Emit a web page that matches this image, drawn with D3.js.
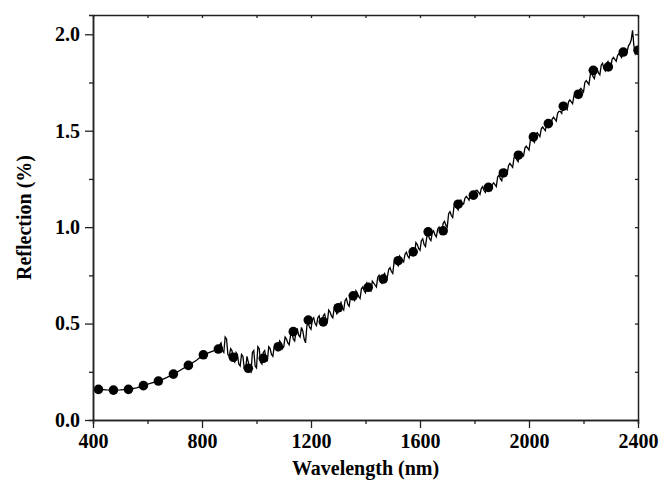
<!DOCTYPE html>
<html>
<head>
<meta charset="utf-8">
<script src="https://cdn.jsdelivr.net/npm/d3@7"></script>
<style>
  body { margin: 0; background: #fff; }
  text { font-family: "Liberation Serif", "Times New Roman", serif; font-weight: bold; }
</style>
</head>
<body>
<svg id="drawing_region"></svg>
<script>
// smooth part of the spectrum
var smoothWl = [400, 420, 450, 475, 500, 530, 560, 585, 610, 640, 670, 695, 720, 750, 780, 805, 830, 850];
var smoothR = [0.160, 0.159, 0.156, 0.155, 0.156, 0.159, 0.167, 0.178, 0.190, 0.202, 0.220, 0.238, 0.258, 0.283, 0.310, 0.338, 0.352, 0.362];

// noisy part, read every 5 nm from 860 to 2400
var noisyStart = 860, noisyStep = 5;
var noisyR = [
  0.368, 0.39, 0.40, 0.36, 0.35, 0.43, 0.42, 0.34, 0.33, 0.37,
  0.36, 0.31, 0.30, 0.35, 0.34, 0.29, 0.28, 0.34, 0.33, 0.27,
  0.26, 0.33, 0.30, 0.26, 0.25, 0.35, 0.36, 0.28, 0.27, 0.38,
  0.37, 0.30, 0.29, 0.35, 0.36, 0.32, 0.31, 0.38, 0.37, 0.34,
  0.33, 0.38, 0.39, 0.36, 0.36, 0.41, 0.40, 0.37, 0.38, 0.43,
  0.42, 0.40, 0.39, 0.44, 0.45, 0.42, 0.41, 0.46, 0.47, 0.44,
  0.43, 0.48, 0.46, 0.42, 0.40, 0.49, 0.50, 0.48, 0.47, 0.52,
  0.53, 0.50, 0.49, 0.53, 0.54, 0.51, 0.50, 0.54, 0.55, 0.52,
  0.51, 0.57, 0.56, 0.54, 0.53, 0.58, 0.57, 0.55, 0.56, 0.60,
  0.61, 0.58, 0.57, 0.62, 0.63, 0.60, 0.59, 0.64, 0.65, 0.63,
  0.62, 0.67, 0.66, 0.64, 0.63, 0.68, 0.69, 0.67, 0.66, 0.71,
  0.70, 0.68, 0.67, 0.72, 0.71, 0.70, 0.69, 0.74, 0.75, 0.72,
  0.71, 0.75, 0.76, 0.74, 0.74, 0.78, 0.79, 0.77, 0.76, 0.82,
  0.83, 0.81, 0.80, 0.85, 0.84, 0.83, 0.82, 0.86, 0.87, 0.85,
  0.84, 0.88, 0.89, 0.87, 0.86, 0.92, 0.91, 0.89, 0.88, 0.93,
  0.94, 0.91, 0.90, 0.95, 0.96, 0.94, 0.93, 0.97, 0.98, 0.96,
  0.95, 0.99, 1.00, 0.98, 0.97, 1.02, 1.03, 1.01, 1.00, 1.07,
  1.08, 1.06, 1.05, 1.11, 1.12, 1.10, 1.09, 1.13, 1.14, 1.12,
  1.12, 1.15, 1.16, 1.15, 1.14, 1.17, 1.18, 1.16, 1.15, 1.19,
  1.19, 1.18, 1.17, 1.20, 1.21, 1.19, 1.18, 1.22, 1.22, 1.20,
  1.19, 1.22, 1.23, 1.22, 1.21, 1.26, 1.27, 1.25, 1.24, 1.29,
  1.30, 1.29, 1.28, 1.32, 1.33, 1.32, 1.31, 1.36, 1.37, 1.35,
  1.34, 1.38, 1.39, 1.38, 1.37, 1.41, 1.42, 1.41, 1.40, 1.45,
  1.46, 1.45, 1.44, 1.48, 1.49, 1.48, 1.47, 1.51, 1.52, 1.51,
  1.50, 1.54, 1.55, 1.54, 1.53, 1.56, 1.57, 1.56, 1.55, 1.59,
  1.60, 1.60, 1.59, 1.63, 1.64, 1.62, 1.61, 1.65, 1.66, 1.65,
  1.64, 1.68, 1.69, 1.68, 1.67, 1.71, 1.72, 1.71, 1.70, 1.75,
  1.76, 1.75, 1.74, 1.79, 1.80, 1.78, 1.77, 1.81, 1.82, 1.80,
  1.79, 1.84, 1.85, 1.82, 1.81, 1.85, 1.86, 1.84, 1.83, 1.87,
  1.88, 1.87, 1.86, 1.89, 1.90, 1.89, 1.88, 1.91, 1.92, 1.91,
  1.91, 1.94, 1.95, 1.97, 2.02, 1.94, 1.90, 1.92, 1.93
];

// circle markers
var markerWl = [420, 475, 530, 585, 640, 695, 750, 805, 860, 915, 970, 1025, 1080, 1135, 1190, 1245, 1300, 1355, 1410,
  1465, 1520, 1575, 1630, 1685, 1740, 1796, 1851, 1906, 1961, 2016, 2071, 2126, 2181, 2236, 2291, 2346, 2400];
var markerR = [0.159, 0.155, 0.159, 0.178, 0.202, 0.238, 0.283, 0.338, 0.368, 0.325, 0.268, 0.320, 0.380, 0.458, 0.518,
  0.509, 0.582, 0.644, 0.688, 0.731, 0.826, 0.872, 0.976, 0.981, 1.119, 1.166, 1.206, 1.281, 1.373, 1.468, 1.537,
  1.627, 1.689, 1.813, 1.831, 1.908, 1.917];

var xMajor = [400, 800, 1200, 1600, 2000, 2400];
var xMinor = [600, 1000, 1400, 1800, 2200];
var yMajor = [0.0, 0.5, 1.0, 1.5, 2.0];
var yMinor = [0.25, 0.75, 1.25, 1.75];

var config = {
    width: 663,
    height: 493,
    margin: { top: 15, right: 25, bottom: 73, left: 93 }
};

var spectrum = smoothWl.map((w, i) => ({ wl: w, r: smoothR[i] }))
    .concat(noisyR.map((r, i) => ({ wl: noisyStart + i * noisyStep, r: r })));
var markers = markerWl.map((w, i) => ({ wl: w, r: markerR[i] }));

var svg = d3.select('#drawing_region')
    .attr('width', config.width)
    .attr('height', config.height);

var innerW = config.width - config.margin.left - config.margin.right;
var innerH = config.height - config.margin.top - config.margin.bottom;

var chart = svg.append('g')
    .attr('transform', `translate(${config.margin.left}, ${config.margin.top})`);

var x = d3.scaleLinear().domain([400, 2400]).range([0, innerW]);
var y = d3.scaleLinear().domain([0, 2.1]).range([innerH, 0]);

chart.append('clipPath').attr('id', 'clip')
    .append('rect').attr('width', innerW).attr('height', innerH);

var plot = chart.append('g').attr('clip-path', 'url(#clip)');

plot.append('path')
    .datum(spectrum)
    .attr('d', d3.line().x(d => x(d.wl)).y(d => y(d.r)))
    .attr('fill', 'none')
    .attr('stroke', '#000')
    .attr('stroke-width', 1.3);

plot.selectAll('circle')
    .data(markers)
    .enter()
    .append('circle')
    .attr('cx', d => x(d.wl))
    .attr('cy', d => y(d.r))
    .attr('r', 4.8)
    .attr('fill', '#000');

// axes
function styleAxis(g) {
    g.selectAll('path.domain').attr('stroke', '#222').attr('stroke-width', 1.5);
    g.selectAll('.tick line').attr('stroke', '#222').attr('stroke-width', 1.3);
    g.selectAll('.tick text').attr('fill', '#000').style('font-size', '20px');
}

chart.append('g')
    .attr('transform', `translate(0, ${innerH})`)
    .call(d3.axisBottom(x).tickValues(xMinor).tickSize(4).tickFormat(''))
    .call(styleAxis);
chart.append('g')
    .attr('transform', `translate(0, ${innerH})`)
    .call(d3.axisBottom(x).tickValues(xMajor).tickSize(8).tickSizeOuter(0).tickPadding(6).tickFormat(d3.format('d')))
    .call(styleAxis);

chart.append('g')
    .call(d3.axisLeft(y).tickValues(yMinor).tickSize(4).tickFormat(''))
    .call(styleAxis);
chart.append('g')
    .call(d3.axisLeft(y).tickValues(yMajor).tickSize(8).tickSizeOuter(0).tickPadding(5).tickFormat(d3.format('.1f')))
    .call(styleAxis);

chart.append('g')
    .call(d3.axisTop(x).tickValues(xMajor.concat(xMinor)).tickSize(-3).tickSizeOuter(0).tickFormat(''))
    .call(styleAxis);
chart.append('g')
    .attr('transform', `translate(${innerW}, 0)`)
    .call(d3.axisRight(y).tickValues(yMajor.concat(yMinor)).tickSize(-3).tickSizeOuter(0).tickFormat(''))
    .call(styleAxis);

chart.append('text')
    .attr('x', innerW / 2)
    .attr('y', innerH + 55)
    .attr('text-anchor', 'middle')
    .style('font-size', '20px')
    .text('Wavelength (nm)');

chart.append('text')
    .attr('transform', `translate(${-62}, ${innerH / 2}) rotate(-90)`)
    .attr('text-anchor', 'middle')
    .style('font-size', '20px')
    .text('Reflection (%)');
</script>
</body>
</html>
